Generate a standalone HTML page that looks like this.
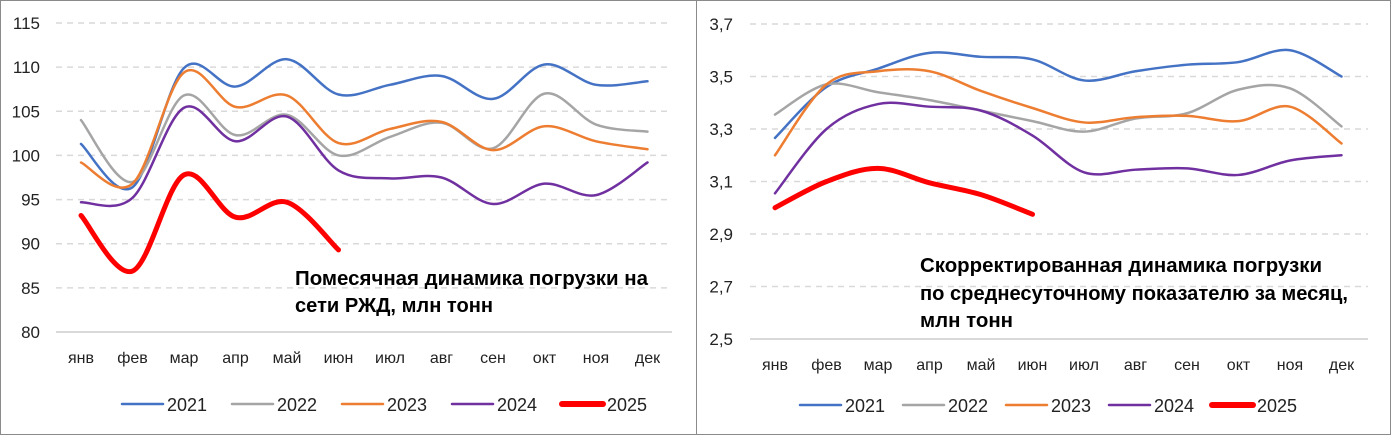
<!DOCTYPE html>
<html><head><meta charset="utf-8"><style>
html,body{margin:0;padding:0;background:#fff;}
svg{display:block;font-family:"Liberation Sans","DejaVu Sans",sans-serif;}
</style></head><body>
<svg id="c" width="1392" height="435" viewBox="0 0 1392 435">
<rect x="0.5" y="0.5" width="696" height="434" fill="#fff" stroke="#8a8a8a"/>
<rect x="696.5" y="0.5" width="694" height="434" fill="#fff" stroke="#8a8a8a"/>
<g id="L"></g>
<g id="R"></g>
<text x="295" y="285" font-size="20" font-weight="bold" textLength="353" lengthAdjust="spacingAndGlyphs">Помесячная динамика погрузки на</text>
<text x="295" y="312" font-size="20" font-weight="bold" textLength="198" lengthAdjust="spacingAndGlyphs">сети РЖД, млн тонн</text>
<text x="920" y="272" font-size="20" font-weight="bold" textLength="402" lengthAdjust="spacingAndGlyphs">Скорректированная динамика погрузки</text>
<text x="920" y="300" font-size="20" font-weight="bold" textLength="428" lengthAdjust="spacingAndGlyphs">по среднесуточному показателю за месяц,</text>
<text x="920" y="327" font-size="20" font-weight="bold" textLength="93" lengthAdjust="spacingAndGlyphs">млн тонн</text>
</svg>
<script>
const months = ["янв","фев","мар","апр","май","июн","июл","авг","сен","окт","ноя","дек"];
const years = ["2021","2022","2023","2024","2025"];
const colors = ["#4472c4","#a5a5a5","#ed7d31","#7030a0","#ff0000"];
const leftTicks = [80,85,90,95,100,105,110,115];
const rightTicks = [2.5,2.7,2.9,3.1,3.3,3.5,3.7];
const rightTickLabels = ["2,5","2,7","2,9","3,1","3,3","3,5","3,7"];
const left2021 = [101.3,96.4,109.9,107.8,110.9,106.9,108,109,106.4,110.3,108,108.4];
const left2022 = [104,97,106.8,102.3,104.6,100,102.1,103.7,100.8,107,103.5,102.7];
const left2023 = [99.2,96.8,109.4,105.5,106.8,101.4,103,103.8,100.6,103.3,101.6,100.7];
const left2024 = [94.7,95.2,105.4,101.6,104.4,98.3,97.4,97.5,94.5,96.8,95.5,99.2];
const left2025 = [93.2,86.9,97.8,93,94.7,89.3];
const right2021 = [3.266,3.46,3.53,3.59,3.575,3.565,3.485,3.52,3.545,3.555,3.6,3.5];
const right2022 = [3.355,3.47,3.44,3.41,3.37,3.33,3.29,3.34,3.36,3.45,3.455,3.31];
const right2023 = [3.2,3.47,3.52,3.52,3.445,3.38,3.325,3.345,3.35,3.33,3.385,3.245];
const right2024 = [3.055,3.3,3.395,3.385,3.37,3.275,3.135,3.145,3.15,3.125,3.18,3.2];
const right2025 = [3.0,3.1,3.15,3.095,3.05,2.975];

const NS="http://www.w3.org/2000/svg";
function mk(p,t,a){const e=document.createElementNS(NS,t);for(const k in a)e.setAttribute(k,a[k]);p.appendChild(e);return e;}
function spline(pts){
  let d="M"+pts[0][0]+","+pts[0][1];
  for(let i=0;i<pts.length-1;i++){
    const p0=pts[Math.max(i-1,0)],p1=pts[i],p2=pts[i+1],p3=pts[Math.min(i+2,pts.length-1)];
    const c1x=p1[0]+(p2[0]-p0[0])/6,c1y=p1[1]+(p2[1]-p0[1])/6;
    const c2x=p2[0]-(p3[0]-p1[0])/6,c2y=p2[1]-(p3[1]-p1[1])/6;
    d+=" C"+c1x+","+c1y+" "+c2x+","+c2y+" "+p2[0]+","+p2[1];
  }
  return d;
}
function chart(g,cfg){
  const y=v=>cfg.y0+(v-cfg.vmin)/(cfg.vmax-cfg.vmin)*(cfg.y1-cfg.y0);
  const x=i=>cfg.xFirst+i*cfg.step;
  cfg.ticks.forEach((t,i)=>{
    const gl=mk(g,"line",{x1:cfg.gx0,x2:cfg.gx1,y1:y(t),y2:y(t),stroke:"#d9d9d9","stroke-width":i===0?2:1.5,"stroke-dasharray":i===0?"":"6,5"});
    
    
    const tl=mk(g,"text",{x:cfg.labX,y:y(t)+6,"font-size":17,"text-anchor":"end",fill:"#222"});
    tl.textContent=cfg.tickLabels[i];
    
    
  });
  months.forEach((m,i)=>{
    const t=mk(g,"text",{x:x(i),y:cfg.monthY,"font-size":16,"text-anchor":"middle",fill:"#222"});
    t.textContent=m;
    
    
  });
  cfg.series.forEach((s,k)=>{
    const p=mk(g,"path",{d:spline(s.map((v,i)=>[x(i),y(v)])),fill:"none",stroke:colors[k],"stroke-width":k===4?5:2.5,"stroke-linecap":"round","stroke-linejoin":"round"});
    
    
  });
  years.forEach((yr,k)=>{
    const lx=cfg.legX[k];
    const ln=mk(g,"line",{x1:lx,x2:lx+41,y1:cfg.legY,y2:cfg.legY,stroke:colors[k],"stroke-width":k===4?6:2.5,"stroke-linecap":"round"});
    
    
    const t=mk(g,"text",{x:lx+45,y:cfg.legY+7,"font-size":18,fill:"#222"});
    t.textContent=yr;
    
    
  });
}
chart(document.getElementById("L"),{vmin:80,vmax:115,y0:332,y1:23,xFirst:81,step:51.5,gx0:56,gx1:672,labX:40,monthY:363,
  ticks:leftTicks,tickLabels:leftTicks.map(String),series:[left2021,left2022,left2023,left2024,left2025],
  legX:[122,232,342,452,562],legY:404});
chart(document.getElementById("R"),{vmin:2.5,vmax:3.7,y0:339,y1:24,xFirst:775,step:51.5,gx0:750,gx1:1368,labX:733,monthY:370,
  ticks:rightTicks,tickLabels:rightTickLabels,series:[right2021,right2022,right2023,right2024,right2025],
  legX:[800,903,1006,1109,1212],legY:405});
</script>
</body></html>
